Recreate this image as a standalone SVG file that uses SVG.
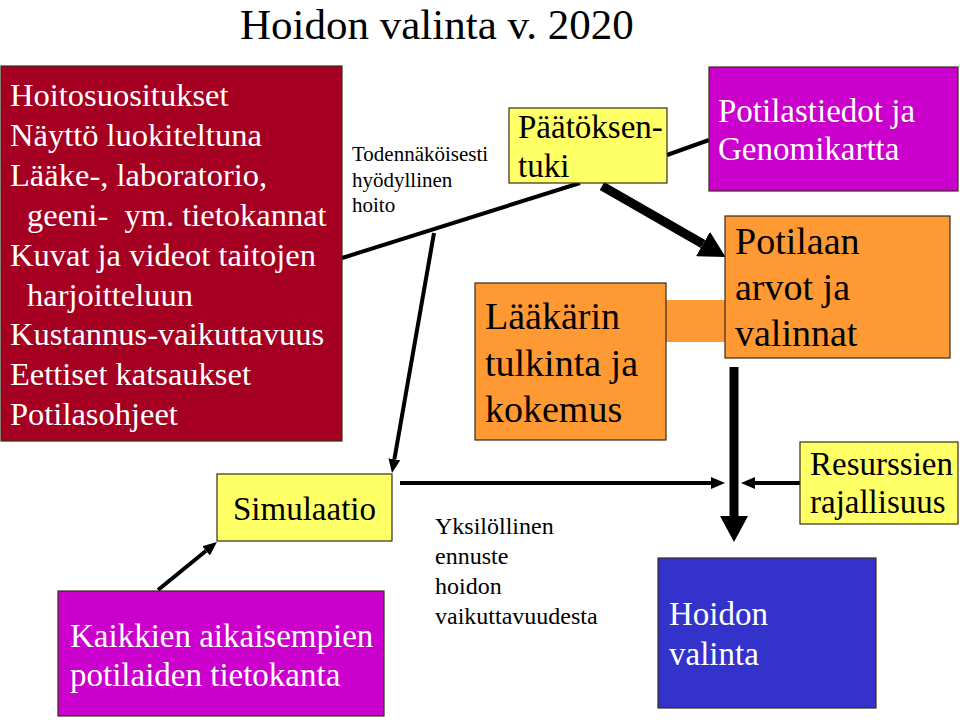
<svg xmlns="http://www.w3.org/2000/svg" width="960" height="720" viewBox="0 0 960 720" font-family="'Liberation Serif', 'Times New Roman', serif">
<style>
.t33{font-size:33px;font-family:'Liberation Serif','Times New Roman',serif}
.t32{font-size:32.5px;font-family:'Liberation Serif','Times New Roman',serif}
.t38{font-size:38px;font-family:'Liberation Serif','Times New Roman',serif}
.t24{font-size:24px;font-family:'Liberation Serif','Times New Roman',serif}
.t21{font-size:21px;font-family:'Liberation Serif','Times New Roman',serif}
.t43{font-size:43px;font-family:'Liberation Serif','Times New Roman',serif}
.w{fill:#ffffff}
.k{fill:#000000}
.box{stroke:#3a2a1a;stroke-width:1.2}
.thin{stroke:#000;stroke-width:4;fill:none}
.thick{stroke:#000;stroke-width:9;fill:none}
</style>
<defs>
<marker id="ah" markerUnits="userSpaceOnUse" markerWidth="14" markerHeight="12" viewBox="0 0 14 12" refX="0" refY="6" orient="auto">
<path d="M0,0 L14,6 L0,12 z" fill="#000"/>
</marker>
<marker id="bh" markerUnits="userSpaceOnUse" markerWidth="26" markerHeight="28" viewBox="0 0 26 28" refX="0" refY="14" orient="auto">
<path d="M0,0 L26,14 L0,28 z" fill="#000"/>
</marker>
</defs>
<rect width="960" height="720" fill="#fff"/>
<text x="240" y="39" class="t43 k">Hoidon valinta v. 2020</text>

<g id="connectors">
<line class="thin" x1="342" y1="258" x2="580" y2="183"/>
<line class="thin" x1="667" y1="155" x2="709" y2="140"/>
<line class="thick" x1="602" y1="186" x2="703" y2="244" marker-end="url(#bh)"/>
<line class="thin" x1="434" y1="233" x2="394.4" y2="459.2" marker-end="url(#ah)"/>
<line class="thin" x1="158" y1="590" x2="206.1" y2="550.8" marker-end="url(#ah)"/>
<line class="thin" x1="400" y1="483" x2="711" y2="483" marker-end="url(#ah)"/>
<line class="thin" x1="800" y1="483" x2="755" y2="483" marker-end="url(#ah)"/>
<line class="thick" x1="734" y1="367" x2="734" y2="516" marker-end="url(#bh)"/>
<rect x="665" y="300" width="62" height="42" fill="#FF9933"/>
</g>

<g id="hoitosuositukset">
<rect class="box" x="1" y="66" width="341" height="375" fill="#A50021"/>
<text class="t32 w" x="10" y="106">Hoitosuositukset</text>
<text class="t32 w" x="10" y="146">Näyttö luokiteltuna</text>
<text class="t32 w" x="10" y="186">Lääke-, laboratorio,</text>
<text class="t32 w" x="27" y="226" xml:space="preserve">geeni-  ym. tietokannat</text>
<text class="t32 w" x="10" y="266">Kuvat ja videot taitojen</text>
<text class="t32 w" x="27" y="306">harjoitteluun</text>
<text class="t32 w" x="10" y="345">Kustannus-vaikuttavuus</text>
<text class="t32 w" x="10" y="385">Eettiset katsaukset</text>
<text class="t32 w" x="10" y="425">Potilasohjeet</text>
</g>

<g id="label-hoito">
<text class="t21 k" x="352" y="161">Todennäköisesti</text>
<text class="t21 k" x="352" y="187">hyödyllinen</text>
<text class="t21 k" x="352" y="212">hoito</text>
</g>

<g id="paatoksentuki">
<rect class="box" x="509" y="108" width="158" height="75" fill="#FFFF66"/>
<text class="t33 k" x="518" y="138">Päätöksen-</text>
<text class="t33 k" x="518" y="177">tuki</text>
</g>

<g id="potilastiedot">
<rect class="box" x="709" y="67" width="249" height="124" fill="#CC00CC"/>
<text class="t33 w" x="718" y="122">Potilastiedot ja</text>
<text class="t33 w" x="718" y="160">Genomikartta</text>
</g>

<g id="potilaan-arvot">
<rect class="box" x="725" y="216" width="225" height="142" fill="#FF9933"/>
<text class="t38 k" x="735" y="254">Potilaan</text>
<text class="t38 k" x="735" y="300">arvot ja</text>
<text class="t38 k" x="735" y="346">valinnat</text>
</g>

<g id="laakarin-tulkinta">
<rect class="box" x="475" y="283" width="191" height="157" fill="#FF9933"/>
<text class="t38 k" x="485" y="329">Lääkärin</text>
<text class="t38 k" x="485" y="376">tulkinta ja</text>
<text class="t38 k" x="485" y="422">kokemus</text>
</g>

<g id="simulaatio">
<rect class="box" x="217" y="474" width="175" height="67" fill="#FFFF66"/>
<text class="t33 k" x="233" y="520">Simulaatio</text>
</g>

<g id="label-ennuste">
<text class="t24 k" x="435" y="534">Yksilöllinen</text>
<text class="t24 k" x="435" y="564">ennuste</text>
<text class="t24 k" x="435" y="594">hoidon</text>
<text class="t24 k" x="435" y="624">vaikuttavuudesta</text>
</g>

<g id="resurssien">
<rect class="box" x="800" y="442" width="158" height="82" fill="#FFFF66"/>
<text class="t33 k" x="810" y="475">Resurssien</text>
<text class="t33 k" x="810" y="513">rajallisuus</text>
</g>

<g id="kaikkien">
<rect class="box" x="58" y="591" width="326" height="125" fill="#CC00CC"/>
<text class="t33 w" x="70" y="647">Kaikkien aikaisempien</text>
<text class="t33 w" x="70" y="686">potilaiden tietokanta</text>
</g>

<g id="hoidon-valinta">
<rect class="box" x="658" y="558" width="218" height="150" fill="#3333CC"/>
<text class="t33 w" x="669" y="625">Hoidon</text>
<text class="t33 w" x="669" y="665">valinta</text>
</g>
</svg>
